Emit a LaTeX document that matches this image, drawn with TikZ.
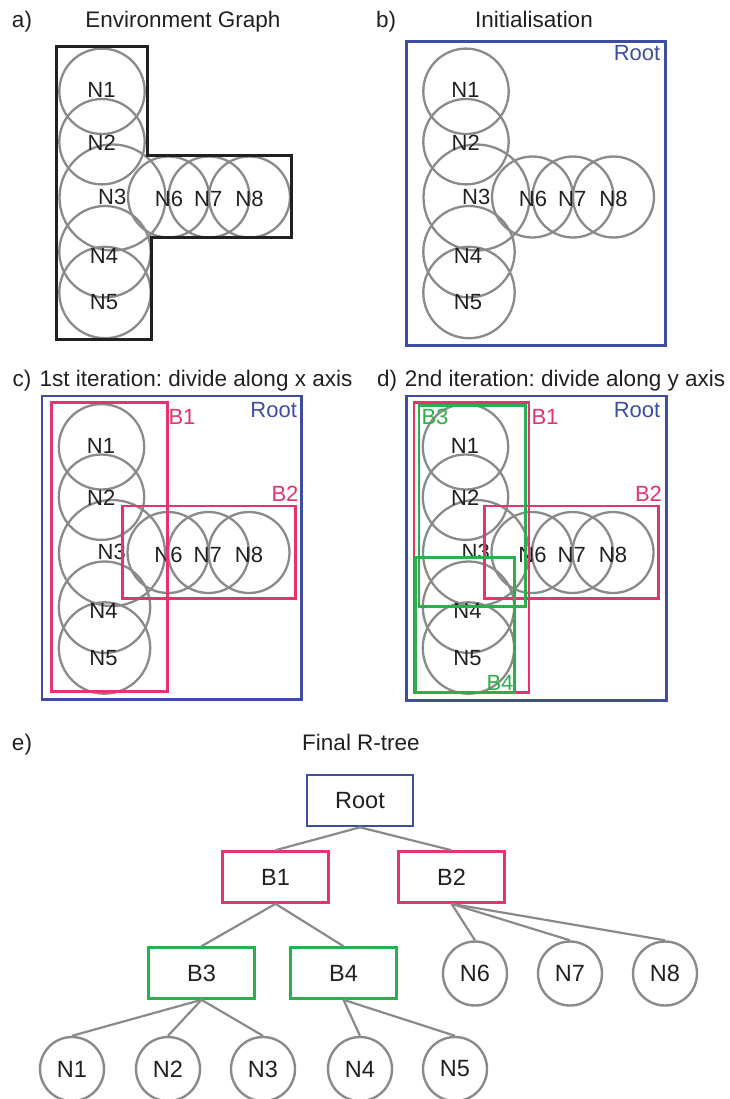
\documentclass[tikz,border=0pt]{standalone}
\usepackage{fontspec}
\setmainfont{Liberation Sans}
\frenchspacing
\definecolor{rblue}{RGB}{62,77,160}
\definecolor{rpink}{RGB}{230,51,107}
\definecolor{rgreen}{RGB}{45,174,75}
\definecolor{rgray}{RGB}{138,138,138}
\definecolor{rtext}{RGB}{35,31,32}
\tikzset{
  envc/.style={draw=rgray, line width=2.3pt, circle, inner sep=0pt, minimum size=#1},
  lbl/.style={inner sep=0pt, text=rtext, font=\fontsize{22}{22}\selectfont},
  ttl/.style={inner sep=0pt, anchor=base, text=rtext, font=\fontsize{22.5}{22.5}\selectfont},
  pbox/.style={draw=#1, line width=2.5pt},
  plbl/.style={inner sep=0pt, text=#1, font=\fontsize{22}{22}\selectfont},
  tbox/.style={draw=#1, line width=2.6pt, minimum width=106pt, minimum height=51pt, inner sep=0pt, text=rtext, font=\fontsize{23.5}{23.5}\selectfont},
  tcirc/.style={draw=rgray, line width=2.4pt, circle, minimum size=64pt, inner sep=0pt, text=rtext, font=\fontsize{23.5}{23.5}\selectfont},
  tedge/.style={draw=rgray, line width=2.2pt}
}
\newcommand\envcircles[3]{%
  \begin{scope}[shift={(#2,#3)}]
    \node[envc=85.4pt] (#1c1) at (102,91.3) {};
    \node[envc=85.4pt] (#1c2) at (102,141.7) {};
    \node[envc=106pt]  (#1c3) at (112.5,197.5) {};
    \node[envc=91.4pt] (#1c4) at (105,251.7) {};
    \node[envc=91.4pt] (#1c5) at (105,292.5) {};
    \node[envc=81pt]   (#1c6) at (168.5,197) {};
    \node[envc=81pt]   (#1c7) at (209,197) {};
    \node[envc=81pt]   (#1c8) at (249.5,197) {};
    \node[lbl] (#1l1) at (101.5,90) {N1};
    \node[lbl] (#1l2) at (101.7,142.5) {N2};
    \node[lbl] (#1l3) at (112.2,196.7) {N3};
    \node[lbl] (#1l4) at (104,255.5) {N4};
    \node[lbl] (#1l5) at (104,302.5) {N5};
    \node[lbl] (#1l6) at (169,199) {N6};
    \node[lbl] (#1l7) at (208.3,199) {N7};
    \node[lbl] (#1l8) at (249.5,199) {N8};
  \end{scope}}
\begin{document}
\begin{tikzpicture}[x=1pt,y=-1pt]
\useasboundingbox (0,0) rectangle (729,1099);
% ---------- a)
\node[ttl] (ta) at (22,28) {a)};
\node[ttl] (tat) at (183,28) {Environment Graph};
\envcircles{a}{0}{0}
\draw[line width=3pt, draw=rtext] (56,47) -- (147,47) -- (147,155.3) -- (291,155.3) -- (291,238) -- (151.7,238) -- (151.7,339) -- (56,339) -- cycle;
% ---------- b)
\node[ttl] (tb) at (386,28) {b)};
\node[ttl] (tbt) at (534,28) {Initialisation};
\envcircles{b}{364}{0}
\draw[pbox=rblue] (406.7,41.7) rectangle (665.7,345.7);
\node[plbl=rblue] (broot) at (637,52.7) {Root};
% ---------- c)
\node[ttl] (tc) at (22,386.5) {c)};
\node[ttl] (tct) at (196,386.5) {1st iteration: divide along x axis};
\envcircles{c}{-0.5}{355.5}
\draw[pbox=rblue] (42,396) rectangle (301.7,699.7);
\draw[pbox=rpink] (51.7,402.7) rectangle (167.3,691.7);
\draw[pbox=rpink] (122.7,506) rectangle (295.7,598.3);
\node[plbl=rblue] (croot) at (273.7,410) {Root};
\node[plbl=rpink] (cb1) at (182,417) {B1};
\node[plbl=rpink] (cb2) at (285,494) {B2};
% ---------- d)
\node[ttl] (td) at (387,386.5) {d)};
\node[ttl] (tdt) at (565,386.5) {2nd iteration: divide along y axis};
\envcircles{d}{363.5}{355.5}
\draw[pbox=rblue] (406.7,396) rectangle (666.3,700.7);
\draw[pbox=rpink] (414,402.7) rectangle (529,692.3);
\draw[pbox=rpink] (484.3,506) rectangle (658.7,598.3);
\draw[pbox=rgreen] (419,405.3) rectangle (525.3,606.3);
\draw[pbox=rgreen] (415.7,557.7) rectangle (514.7,692.3);
\node[plbl=rblue] (droot) at (637,410) {Root};
\node[plbl=rpink] (db1) at (545,417) {B1};
\node[plbl=rpink] (db2) at (648.5,494) {B2};
\node[plbl=rgreen] (db3) at (435,417.3) {B3};
\node[plbl=rgreen] (db4) at (500,682.7) {B4};
% ---------- e)
\node[ttl] (te) at (22,750.7) {e)};
\node[ttl] (tet) at (361,750.7) {Final R-tree};
\node[tbox=rblue]  (root) at (360,800.5) {Root};
\node[tbox=rpink]  (b1) at (275.5,877) {B1};
\node[tbox=rpink]  (b2) at (451.5,877) {B2};
\node[tbox=rgreen] (b3) at (201.5,973) {B3};
\node[tbox=rgreen] (b4) at (343.5,973) {B4};
\node[tcirc] (n6) at (475,973.5) {N6};
\node[tcirc] (n7) at (570,973.5) {N7};
\node[tcirc] (n8) at (665,973.5) {N8};
\node[tcirc] (n1) at (72,1069) {N1};
\node[tcirc] (n2) at (168,1069) {N2};
\node[tcirc] (n3) at (263,1069) {N3};
\node[tcirc] (n4) at (360,1069) {N4};
\node[tcirc] (n5) at (455,1069) {N5};
\draw[tedge] (root.south) -- (b1.north);
\draw[tedge] (root.south) -- (b2.north);
\draw[tedge] (b1.south) -- (b3.north);
\draw[tedge] (b1.south) -- (b4.north);
\draw[tedge] (b2.south) -- (n6.north);
\draw[tedge] (b2.south) -- (n7.north);
\draw[tedge] (b2.south) -- (n8.north);
\draw[tedge] (b3.south) -- (n1.north);
\draw[tedge] (b3.south) -- (n2.north);
\draw[tedge] (b3.south) -- (n3.north);
\draw[tedge] (b4.south) -- (n4.north);
\draw[tedge] (b4.south) -- (n5.north);
\end{tikzpicture}
\end{document}
